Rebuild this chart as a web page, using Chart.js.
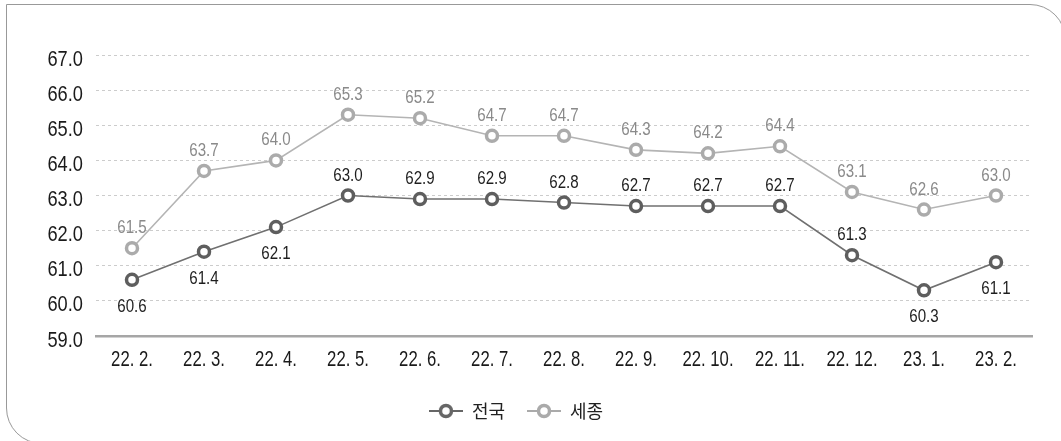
<!DOCTYPE html>
<html><head><meta charset="utf-8">
<script src="https://cdn.jsdelivr.net/npm/chart.js@4"></script>
<style>
html,body{margin:0;padding:0;background:#fff;overflow:hidden;width:1061px;height:441px;}
#frame{position:absolute;left:6px;top:4px;width:1060px;height:440px;border:1.5px solid #999;border-radius:0 36px 0 36px;box-sizing:border-box;}
#c{position:absolute;left:0;top:0;}
</style></head><body>
<div id="frame"></div>
<canvas id="c" width="1061" height="441"></canvas>
<script>
const categories = ['22. 2.','22. 3.','22. 4.','22. 5.','22. 6.','22. 7.','22. 8.','22. 9.','22. 10.','22. 11.','22. 12.','23. 1.','23. 2.'];
const national = [60.6,61.4,62.1,63.0,62.9,62.9,62.8,62.7,62.7,62.7,61.3,60.3,61.1];
const sejong = [61.5,63.7,64.0,65.3,65.2,64.7,64.7,64.3,64.2,64.4,63.1,62.6,63.0];
const nationalBelow = [true,true,true,false,false,false,false,false,false,false,false,true,true];
const seriesNames = ['전국','세종'];
const yTicks = ['59.0','60.0','61.0','62.0','63.0','64.0','65.0','66.0','67.0'];

const FONT = "'Liberation Sans',Arial,sans-serif";

function drawCondensed(ctx,text,x,y,size,sx,align,color){
  ctx.save();
  ctx.font=size+"px "+FONT;
  ctx.fillStyle=color;
  ctx.textBaseline='alphabetic';
  ctx.textAlign=align;
  ctx.translate(x,y);
  ctx.scale(sx,1);
  ctx.fillText(text,0,0);
  ctx.restore();
}

function legendIcon(color){
  const cv=document.createElement('canvas');
  cv.width=34;cv.height=18;
  const g=cv.getContext('2d');
  g.strokeStyle=color;g.lineWidth=1.8;
  g.beginPath();g.moveTo(0,9);g.lineTo(34,9);g.stroke();
  g.beginPath();g.arc(17,9,5.5,0,Math.PI*2);g.fillStyle='#fff';g.fill();
  g.lineWidth=3.5;g.stroke();
  return cv;
}

const textPlugin={
  id:'textPlugin',
  afterDraw(chart){
    const ctx=chart.ctx;
    const xs=chart.scales.x, ys=chart.scales.y;
    yTicks.forEach(t=>{
      const py=ys.getPixelForValue(parseFloat(t));
      drawCondensed(ctx,t,83,py+10.5,22,0.83,'right','#1a1a1a');
    });
    categories.forEach((c,i)=>{
      const px=xs.getPixelForValue(i);
      drawCondensed(ctx,c,px,xs.top+30,22,0.76,'center','#1a1a1a');
    });
    chart.data.datasets.forEach((ds,di)=>{
      const meta=chart.getDatasetMeta(di);
      meta.data.forEach((pt,i)=>{
        const v=ds.data[i].toFixed(1);
        if(di===0){
          const y = nationalBelow[i] ? pt.y+32 : pt.y-15;
          drawCondensed(ctx,v,pt.x,y,18,0.84,'center','#1e1e1e');
        } else {
          drawCondensed(ctx,v,pt.x,pt.y-15,18,0.84,'center','#8a8a8a');
        }
      });
    });
  }
};

new Chart(document.getElementById('c'),{
  type:'line',
  data:{labels:categories,datasets:[
    {label:seriesNames[0],data:national,borderColor:'#707070',borderWidth:1.6,pointRadius:5.5,pointBorderWidth:3.5,pointBackgroundColor:'#fff',pointBorderColor:'#5e5e5e',pointStyle:'circle',tension:0},
    {label:seriesNames[1],data:sejong,borderColor:'#b4b4b4',borderWidth:1.6,pointRadius:5.5,pointBorderWidth:3.5,pointBackgroundColor:'#fff',pointBorderColor:'#ababab',pointStyle:'circle',tension:0}
  ]},
  options:{
    responsive:false,animation:false,devicePixelRatio:1,
    layout:{padding:{left:0,right:29,top:55,bottom:11}},
    plugins:{
      tooltip:{enabled:false},
      legend:{position:'bottom',
        labels:{usePointStyle:true,pointStyleWidth:34,padding:22,color:'#222',font:{family:"'Noto Sans CJK KR',sans-serif",size:18},
          generateLabels(chart){
            return chart.data.datasets.map((ds,i)=>({text:ds.label,pointStyle:legendIcon(i===0?'#666':'#aaa'),datasetIndex:i,fontColor:'#222',lineWidth:0,strokeStyle:'transparent',fillStyle:'transparent'}));
          }}
      }
    },
    scales:{
      x:{offset:true,grid:{display:false,drawTicks:false},border:{display:true,color:'#a6a6a6',width:2.5},
        ticks:{display:false,autoSkip:false},
        afterFit(s){s.height=44;}},
      y:{min:59,max:67,
        ticks:{display:false,stepSize:1},
        grid:{color:'#cccccc',lineWidth:1,drawTicks:false},
        border:{display:false,dash:[3,3]},
        afterFit(s){s.width=96;}}
    }
  },
  plugins:[textPlugin]
});
</script>
</body></html>
